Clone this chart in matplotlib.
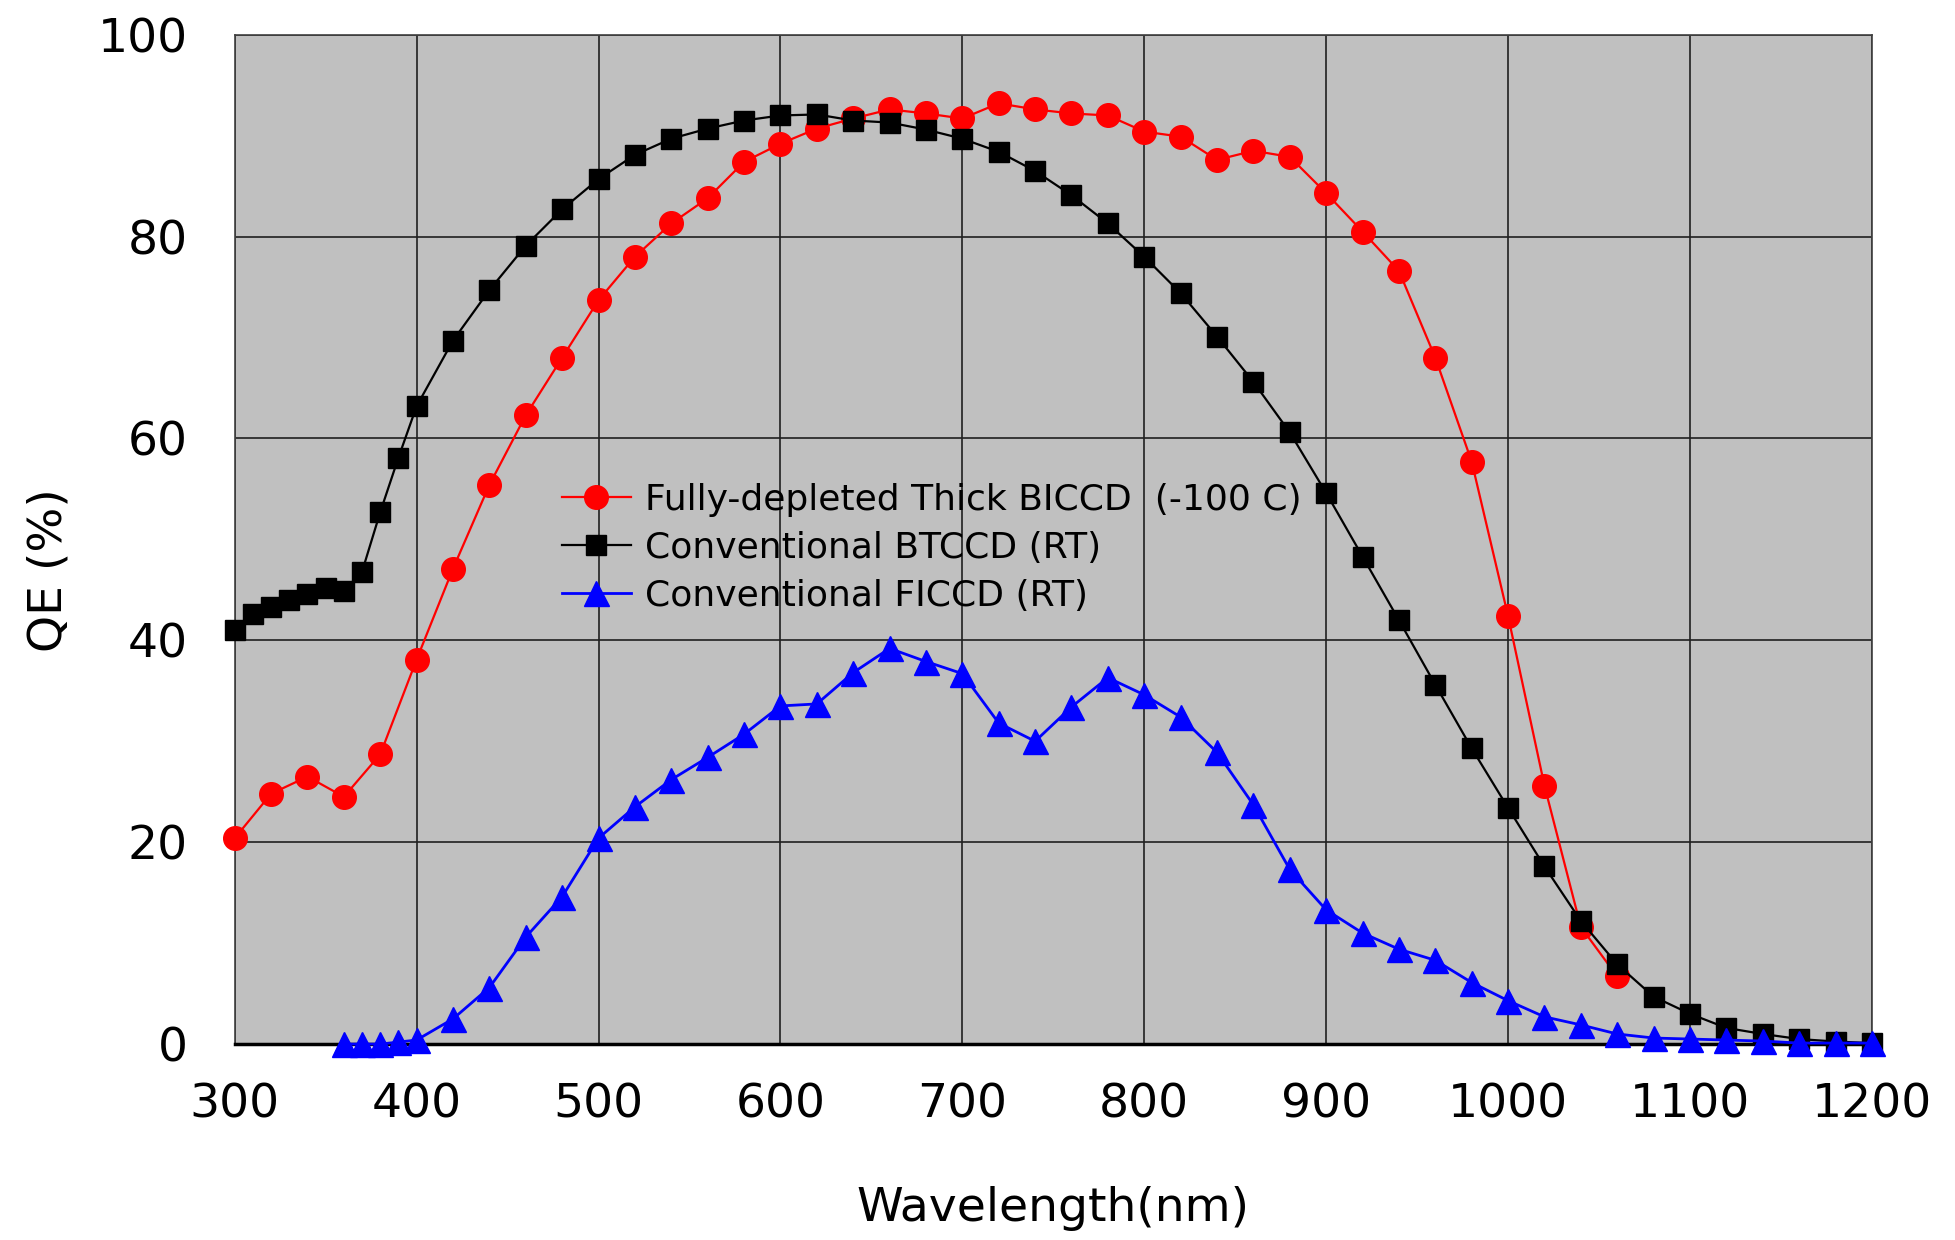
import numpy as np
import matplotlib
matplotlib.use("Agg")
import matplotlib.pyplot as plt

# wavelength (nm) and QE (%)
wl_fd = [300, 320, 340, 360, 380, 400, 420, 440, 460, 480, 500, 520, 540, 560,
         580, 600, 620, 640, 660, 680, 700, 720, 740, 760, 780, 800, 820, 840,
         860, 880, 900, 920, 940, 960, 980, 1000, 1020, 1040, 1060]
qe_fd = [20.4, 24.8, 26.5, 24.5, 28.7, 38.1, 47.1, 55.4, 62.3, 68.0, 73.7, 78.0,
         81.3, 83.8, 87.4, 89.2, 90.7, 91.7, 92.6, 92.2, 91.7, 93.2, 92.6, 92.2,
         92.0, 90.4, 89.9, 87.6, 88.5, 87.9, 84.3, 80.5, 76.6, 68.0, 57.7, 42.4,
         25.6, 11.6, 6.7]

wl_bt = [300, 310, 320, 330, 340, 350, 360, 370, 380, 390, 400, 420, 440, 460,
         480, 500, 520, 540, 560, 580, 600, 620, 640, 660, 680, 700, 720, 740,
         760, 780, 800, 820, 840, 860, 880, 900, 920, 940, 960, 980, 1000, 1020,
         1040, 1060, 1080, 1100, 1120, 1140, 1160, 1180, 1200]
qe_bt = [41.0, 42.6, 43.3, 44.0, 44.6, 45.2, 44.9, 46.8, 52.7, 58.1, 63.2, 69.7,
         74.7, 79.1, 82.7, 85.7, 88.1, 89.7, 90.7, 91.5, 92.0, 92.1, 91.5, 91.3,
         90.6, 89.7, 88.4, 86.5, 84.1, 81.3, 78.0, 74.4, 70.1, 65.6, 60.6, 54.6,
         48.3, 42.0, 35.6, 29.3, 23.4, 17.6, 12.2, 7.9, 4.7, 3.0, 1.6, 1.0, 0.5,
         0.25, 0.1]

wl_fi = [360, 370, 380, 390, 400, 420, 440, 460, 480, 500, 520, 540, 560, 580,
         600, 620, 640, 660, 680, 700, 720, 740, 760, 780, 800, 820, 840, 860,
         880, 900, 920, 940, 960, 980, 1000, 1020, 1040, 1060, 1080, 1100, 1120,
         1140, 1160, 1180, 1200]
qe_fi = [0.0, 0.0, 0.0, 0.2, 0.4, 2.5, 5.6, 10.6, 14.6, 20.4, 23.5, 26.2, 28.4,
         30.7, 33.5, 33.7, 36.8, 39.2, 37.9, 36.7, 31.8, 30.0, 33.4, 36.3, 34.6,
         32.4, 28.9, 23.7, 17.3, 13.3, 11.0, 9.4, 8.3, 6.1, 4.3, 2.7, 1.9, 1.0,
         0.6, 0.5, 0.4, 0.3, 0.1, 0.1, 0.1]

x_ticks = [300, 400, 500, 600, 700, 800, 900, 1000, 1100, 1200]
y_ticks = [0, 20, 40, 60, 80, 100]

plt.rcParams["font.family"] = "DejaVu Sans"

fig = plt.figure(figsize=(19.56, 12.40), dpi=100)
ax = fig.add_axes([0.120, 0.158, 0.837, 0.814])
ax.set_facecolor("#c0c0c0")

ax.plot(wl_fd, qe_fd, color="red", lw=1.6, marker="o", ms=17, mfc="red",
        mec="red", label="Fully-depleted Thick BICCD  (-100 C)", clip_on=False,
        zorder=3)
ax.plot(wl_bt, qe_bt, color="black", lw=1.6, marker="s", ms=14, mfc="black",
        mec="black", label="Conventional BTCCD (RT)", clip_on=False, zorder=4)
ax.plot(wl_fi, qe_fi, color="blue", lw=2.0, marker="^", ms=18, mfc="blue",
        mec="blue", label="Conventional FICCD (RT)", clip_on=False, zorder=5)

ax.set_xlim(300, 1200)
ax.set_ylim(0, 100)
ax.set_xticks(x_ticks)
ax.set_yticks(y_ticks)
ax.grid(True, color="#202020", lw=1.2)
ax.set_axisbelow(True)
ax.tick_params(axis="x", length=0, pad=28, labelsize=34)
ax.tick_params(axis="y", length=0, pad=34, labelsize=34)

for side in ["top", "right", "left"]:
    ax.spines[side].set_color("#404040")
    ax.spines[side].set_linewidth(1.2)
ax.spines["bottom"].set_color("black")
ax.spines["bottom"].set_linewidth(2.5)

ax.set_xlabel("Wavelength(nm)", fontsize=34, labelpad=42)
ax.set_ylabel("QE (%)", fontsize=34)
ax.yaxis.set_label_coords(-0.100, 0.47)

ax.legend(loc="upper left", bbox_to_anchor=(0.200, 0.556), frameon=False,
          fontsize=26, handlelength=1.9, handletextpad=0.4, labelspacing=0.39,
          borderpad=0, borderaxespad=0)

plt.savefig("out.png", dpi=100)
